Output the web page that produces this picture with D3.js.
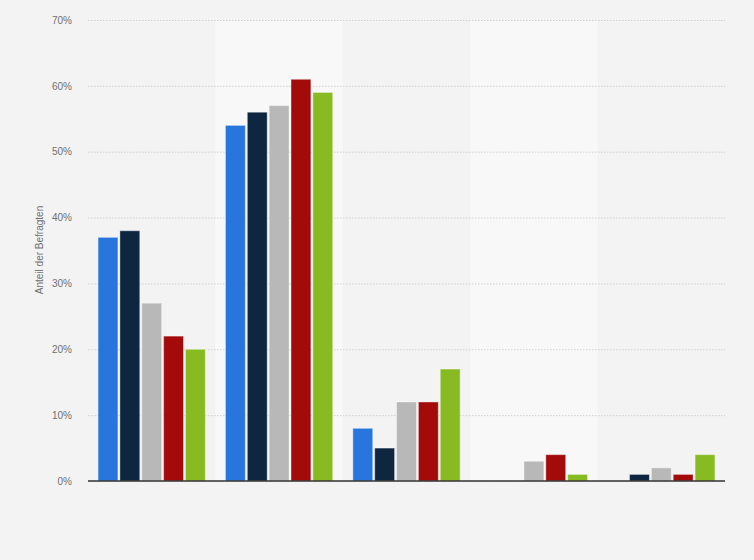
<!DOCTYPE html>
<html>
<head>
<meta charset="utf-8">
<script src="https://cdn.jsdelivr.net/npm/d3@7"></script>
<style>
  body { margin: 0; background: #f3f3f3; }
  svg { display: block; font-family: "Liberation Sans", Arial, sans-serif; }
</style>
</head>
<body>
<script>
// chart data
let categories = ["A", "B", "C", "D", "E"]
let seriesNames = ["Serie 1", "Serie 2", "Serie 3", "Serie 4", "Serie 5"]
let seriesColors = ["#2876dd", "#0f2640", "#b8b8b8", "#a30a0a", "#88bb22"]
let serie1 = [37, 54, 8, 0, 0]
let serie2 = [38, 56, 5, 0, 1]
let serie3 = [27, 57, 12, 3, 2]
let serie4 = [22, 61, 12, 4, 1]
let serie5 = [20, 59, 17, 1, 4]
let yTicks = [0, 10, 20, 30, 40, 50, 60, 70]

let allSeries = [serie1, serie2, serie3, serie4, serie5]

let width = 754
let height = 560
let margin = {top: 20, right: 29, bottom: 79, left: 88}

let svg = d3.select('body')
    .append('svg')
    .attr('width', width)
    .attr('height', height)

svg.append('rect')             // page background
    .attr('width', width)
    .attr('height', height)
    .attr('fill', '#f3f3f3')

let xScale = d3.scaleBand()
    .domain(categories)
    .range([margin.left, width - margin.right])

let xInner = d3.scaleBand()
    .domain(seriesNames)
    .range([0, xScale.bandwidth()])
    .paddingInner(0.09)
    .paddingOuter(0.46)

let yScale = d3.scaleLinear()
    .domain([0, 70])
    .range([height - margin.bottom, margin.top])

// alternating lighter bands (plot area only)
svg.selectAll('.band')
    .data(categories.filter((d, i) => i % 2 === 1))
    .enter().append('rect')
    .attr('class', 'band')
    .attr('x', d => xScale(d))
    .attr('y', yScale(70))
    .attr('width', xScale.bandwidth())
    .attr('height', yScale(0) - yScale(70))
    .attr('fill', '#f8f8f8')

// grid lines + tick labels
let y_axis = d3.axisLeft(yScale)
    .tickValues(yTicks)
    .tickSize(-(width - margin.left - margin.right))
    .tickPadding(16)
    .tickFormat(d => d + '%')

let gy = svg.append('g')
    .attr('transform', 'translate(' + margin.left + ',0)')
    .call(y_axis)

gy.select('.domain').remove()
gy.selectAll('.tick line')
    .attr('stroke', '#cfcfcf')
    .attr('stroke-dasharray', '1.5,1.5')
gy.selectAll('.tick text')
    .attr('fill', '#707070')
    .attr('font-size', 10)
    .attr('font-family', '"Liberation Sans", Arial, sans-serif')

// bars
let groups = svg.selectAll('.group')
    .data(categories)
    .enter().append('g')
    .attr('class', 'group')
    .attr('transform', d => 'translate(' + xScale(d) + ',0)')

groups.selectAll('rect')
    .data((d, ci) => allSeries.map((s, si) => ({name: seriesNames[si], value: s[ci], color: seriesColors[si]})))
    .enter().append('rect')
    .attr('x', d => xInner(d.name))
    .attr('y', d => yScale(d.value))
    .attr('width', xInner.bandwidth())
    .attr('height', d => yScale(0) - yScale(d.value))
    .attr('fill', d => d.color)
    .attr('stroke', 'rgba(255,255,255,0.4)')
    .attr('stroke-width', 1)

// zero line
svg.append('line')
    .attr('x1', margin.left)
    .attr('x2', width - margin.right)
    .attr('y1', yScale(0))
    .attr('y2', yScale(0))
    .attr('stroke', '#333')
    .attr('stroke-width', 1.5)

// y axis title
svg.append('text')
    .attr('transform', 'translate(43,' + 250 + ') rotate(-90)')
    .attr('text-anchor', 'middle')
    .attr('font-size', 10)
    .attr('fill', '#707070')
    .text('Anteil der Befragten')
</script>
</body>
</html>
